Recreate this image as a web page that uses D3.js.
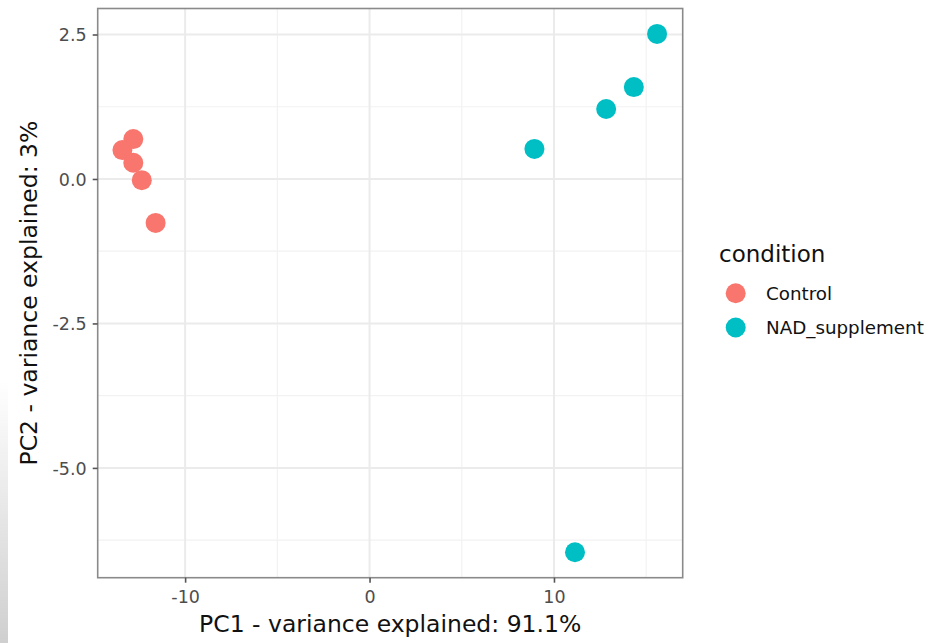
<!DOCTYPE html>
<html>
<head>
<meta charset="utf-8">
<script src="https://cdn.jsdelivr.net/npm/d3@7"></script>
<style>
  body { margin: 0; background: #fff; }
  svg { display: block; font-family: "DejaVu Sans", sans-serif; }
</style>
</head>
<body>
<div id="chart"></div>
<script>
// Canvas size
var width = 934;
var height = 643;

// Data
var conditions = ["Control", "NAD_supplement"];
var conditionColors = ["#F8766D", "#00BFC4"];
var pc1Control = [-12.81, -13.40, -12.81, -12.35, -11.60];
var pc2Control = [0.69, 0.50, 0.28, -0.02, -0.76];
var pc1Nad = [8.94, 12.83, 14.33, 15.59, 11.14];
var pc2Nad = [0.52, 1.21, 1.59, 2.51, -6.46];
var xTicks = [-10, 0, 10];
var xMinor = [-5, 5, 15];
var yTicks = [2.5, 0, -2.5, -5];
var yMinor = [1.25, -1.25, -3.75, -6.25];
var xTitle = "PC1 - variance explained: 91.1%";
var yTitle = "PC2 - variance explained: 3%";

// Panel position
var panel = { left: 97.7, right: 682.7, top: 8.5, bottom: 577.7 };

function createSVG(width, height) {
    return d3.select("#chart")
        .append("svg")
        .attr("width", width)
        .attr("height", height);
}

// ggplot writes a plain hyphen for negatives
function plainMinus(fmt) {
    return function(d) { return fmt(d).replace("\u2212", "-"); };
}

function main() {
    var svg = createSVG(width, height);

    // screenshot shading on the left edge
    var grad = svg.append("defs").append("linearGradient")
        .attr("id", "edge").attr("x1", 0).attr("y1", 0).attr("x2", 0).attr("y2", 1);
    grad.append("stop").attr("offset", "0%").attr("stop-color", "#ffffff");
    grad.append("stop").attr("offset", "100%").attr("stop-color", "#cfcfcf");
    svg.append("rect").attr("x", 0).attr("y", 380).attr("width", 8).attr("height", 263)
        .attr("fill", "url(#edge)");

    var x = d3.scaleLinear().domain([-14.74, 16.98]).range([panel.left, panel.right]);
    var y = d3.scaleLinear().domain([-6.90, 2.95]).range([panel.bottom, panel.top]);

    var grid = svg.append("g");
    // minor grid
    grid.selectAll(".xminor").data(xMinor).enter().append("line")
        .attr("x1", function(d) { return x(d); }).attr("x2", function(d) { return x(d); })
        .attr("y1", panel.top).attr("y2", panel.bottom)
        .attr("stroke", "#f2f2f2").attr("stroke-width", 1.2);
    grid.selectAll(".yminor").data(yMinor).enter().append("line")
        .attr("y1", function(d) { return y(d); }).attr("y2", function(d) { return y(d); })
        .attr("x1", panel.left).attr("x2", panel.right)
        .attr("stroke", "#f2f2f2").attr("stroke-width", 1.2);
    // major grid
    grid.selectAll(".xmajor").data(xTicks).enter().append("line")
        .attr("x1", function(d) { return x(d); }).attr("x2", function(d) { return x(d); })
        .attr("y1", panel.top).attr("y2", panel.bottom)
        .attr("stroke", "#ebebeb").attr("stroke-width", 2);
    grid.selectAll(".ymajor").data(yTicks).enter().append("line")
        .attr("y1", function(d) { return y(d); }).attr("y2", function(d) { return y(d); })
        .attr("x1", panel.left).attr("x2", panel.right)
        .attr("stroke", "#ebebeb").attr("stroke-width", 2);

    // points
    var points = [];
    pc1Control.forEach(function(v, i) { points.push({ x: v, y: pc2Control[i], c: 0 }); });
    pc1Nad.forEach(function(v, i) { points.push({ x: v, y: pc2Nad[i], c: 1 }); });
    svg.append("g").selectAll("circle").data(points).enter().append("circle")
        .attr("cx", function(d) { return x(d.x); })
        .attr("cy", function(d) { return y(d.y); })
        .attr("r", 10)
        .attr("fill", function(d) { return conditionColors[d.c]; });

    // panel border
    svg.append("rect")
        .attr("x", panel.left).attr("y", panel.top)
        .attr("width", panel.right - panel.left).attr("height", panel.bottom - panel.top)
        .attr("fill", "none").attr("stroke", "#8a8a8a").attr("stroke-width", 1.6);

    // axes
    var xAxis = svg.append("g")
        .attr("transform", "translate(0," + panel.bottom + ")")
        .call(d3.axisBottom(x).tickValues(xTicks).tickSize(5).tickPadding(5)
            .tickFormat(plainMinus(d3.format("d"))));
    var yAxis = svg.append("g")
        .attr("transform", "translate(" + panel.left + ",0)")
        .call(d3.axisLeft(y).tickValues(yTicks).tickSize(5).tickPadding(6)
            .tickFormat(plainMinus(d3.format(".1f"))));
    [xAxis, yAxis].forEach(function(ax) {
        ax.select(".domain").remove();
        ax.selectAll(".tick line").attr("stroke", "#555").attr("stroke-width", 1.6);
        ax.selectAll(".tick text")
            .attr("fill", "#4d4d4d")
            .style("font-size", "17.5px")
            .style("font-family", "DejaVu Sans, sans-serif");
    });
    xAxis.selectAll(".tick text").attr("dy", "0.9em");
    yAxis.selectAll(".tick text").attr("dy", "0.36em");

    // axis titles
    var cx = (panel.left + panel.right) / 2;
    var cy = (panel.top + panel.bottom) / 2;
    svg.append("text")
        .attr("x", cx).attr("y", 632)
        .attr("text-anchor", "middle")
        .style("font-size", "23.5px")
        .attr("fill", "#111")
        .text(xTitle);
    svg.append("text")
        .attr("transform", "translate(37," + cy + ") rotate(-90)")
        .attr("text-anchor", "middle")
        .style("font-size", "23.5px")
        .attr("fill", "#111")
        .text(yTitle);

    // legend
    var legend = svg.append("g");
    legend.append("text")
        .attr("x", 719).attr("y", 262)
        .style("font-size", "23px")
        .attr("fill", "#111")
        .text("condition");
    var keyY = [293.3, 327.5];
    legend.selectAll("circle").data(conditions).enter().append("circle")
        .attr("cx", 735.7)
        .attr("cy", function(d, i) { return keyY[i]; })
        .attr("r", 10)
        .attr("fill", function(d, i) { return conditionColors[i]; });
    legend.selectAll(".lab").data(conditions).enter().append("text")
        .attr("x", 766)
        .attr("y", function(d, i) { return keyY[i] + 6.5; })
        .style("font-size", "18.3px")
        .attr("fill", "#111")
        .text(function(d) { return d; });
}

window.onload = function() {
    main();
};
</script>
</body>
</html>
